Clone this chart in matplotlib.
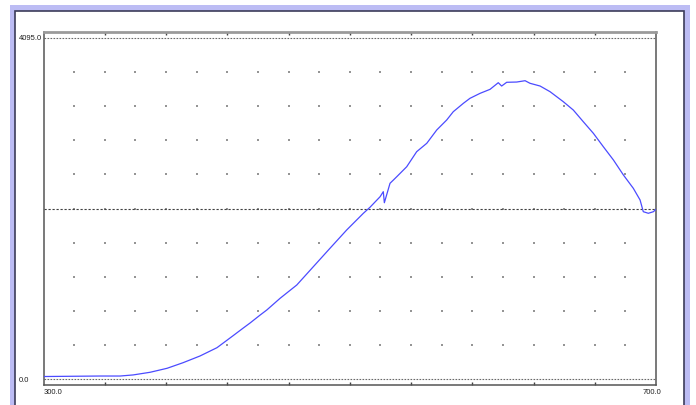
import numpy as np
import matplotlib
matplotlib.use('Agg')
import matplotlib.pyplot as plt
from matplotlib.patches import Rectangle

# spectrum (wavelength, counts)
wavelength = [300.0, 336.9, 350.0, 358.5, 369.6, 380.7, 391.1, 402.2, 413.3, 423.8,
              430.5, 434.9, 441.5, 445.8, 454.5, 465.4, 476.2, 487.1, 498.0, 508.9,
              513.2, 519.8, 521.9, 522.6, 526.3, 528.5, 530.7, 537.2, 543.7, 550.3,
              556.8, 563.3, 567.6, 574.2, 578.5, 585.1, 591.6, 597.0, 599.2, 602.5,
              609.0, 614.5, 617.7, 624.3, 630.8, 639.5, 646.0, 652.5, 659.1, 665.6,
              672.2, 678.7, 685.2, 689.6, 691.7, 695.0, 698.3, 700.0]
counts = [26, 32, 32, 45, 77, 125, 192, 273, 373, 517,
          610, 670, 766, 826, 967, 1127, 1347, 1569, 1789, 1990,
          2062, 2189, 2250, 2117, 2351, 2390, 2430, 2550, 2731, 2832,
          2992, 3112, 3212, 3313, 3373, 3433, 3481, 3561, 3521, 3566,
          3569, 3585, 3554, 3521, 3453, 3332, 3232, 3092, 2952, 2791,
          2631, 2451, 2290, 2150, 2009, 1990, 2009, 2038]

x_min, x_max = 300.0, 700.0
y_min, y_max = 0.0, 4095.0

W, H = 696, 405
fig = plt.figure(figsize=(W / 100, H / 100), dpi=100)
fig.patch.set_facecolor('white')

# window frame (behind the axes)
fig.add_artist(Rectangle((10 / W, 0), 680 / W, 400 / H, transform=fig.transFigure,
                         facecolor='#bcbcf4', edgecolor='none', zorder=-10))
fig.add_artist(Rectangle((14.5 / W, -0.01), 669 / W, 394.5 / H + 0.01, transform=fig.transFigure,
                         facecolor='white', edgecolor='#3c3c5a', lw=1.2, zorder=-9))

ax = fig.add_axes([43.5 / W, (H - 385) / H, (656 - 43.5) / W, (385 - 32) / H])
ax.set_facecolor('white')
ax.set_xlim(x_min, x_max)
ax.set_ylim(-76, 4171)

# dotted grid
gx, gy = np.meshgrid(np.arange(320, 700, 20), np.arange(1, 10) * 409.5)
ax.scatter(gx.ravel(), gy.ravel(), s=0.7, marker='s', color='#959595', lw=0, zorder=1)

ax.axhline(y_max / 2, color='#404040', lw=0.8, ls=(0, (2, 1.6)), zorder=2)
for yv in [y_min, y_max]:
    ax.axhline(yv, color='#6a6a6a', lw=0.8, ls=(0, (1.5, 1.2)), zorder=2)

ax.plot(wavelength, counts, color='#4b4bff', lw=0.9, zorder=3)

for s in ['left', 'bottom', 'right']:
    ax.spines[s].set_color('#555555')
    ax.spines[s].set_linewidth(1.1)
ax.spines['top'].set_color('#9a9a9a')
ax.spines['top'].set_linewidth(2)

ax.set_xticks(np.arange(340, 700, 40))
ax.set_yticks([])
ax.tick_params(axis='x', direction='in', length=2.5, width=1, color='#404040',
               top=True, labelbottom=False)

fs = 5.5
fam = ['Liberation Sans', 'DejaVu Sans']
fig.text(18.5 / W, (H - 39) / H, '4095.0', fontsize=fs, family=fam, ha='left', va='center', color='#202020')
fig.text(18.5 / W, (H - 380) / H, '0.0', fontsize=fs, family=fam, ha='left', va='center', color='#202020')
fig.text(43.7 / W, (H - 393) / H, '300.0', fontsize=fs, family=fam, ha='left', va='center', color='#202020')
fig.text(661.7 / W, (H - 393) / H, '700.0', fontsize=fs, family=fam, ha='right', va='center', color='#202020')

fig.savefig('out.png', dpi=100)
